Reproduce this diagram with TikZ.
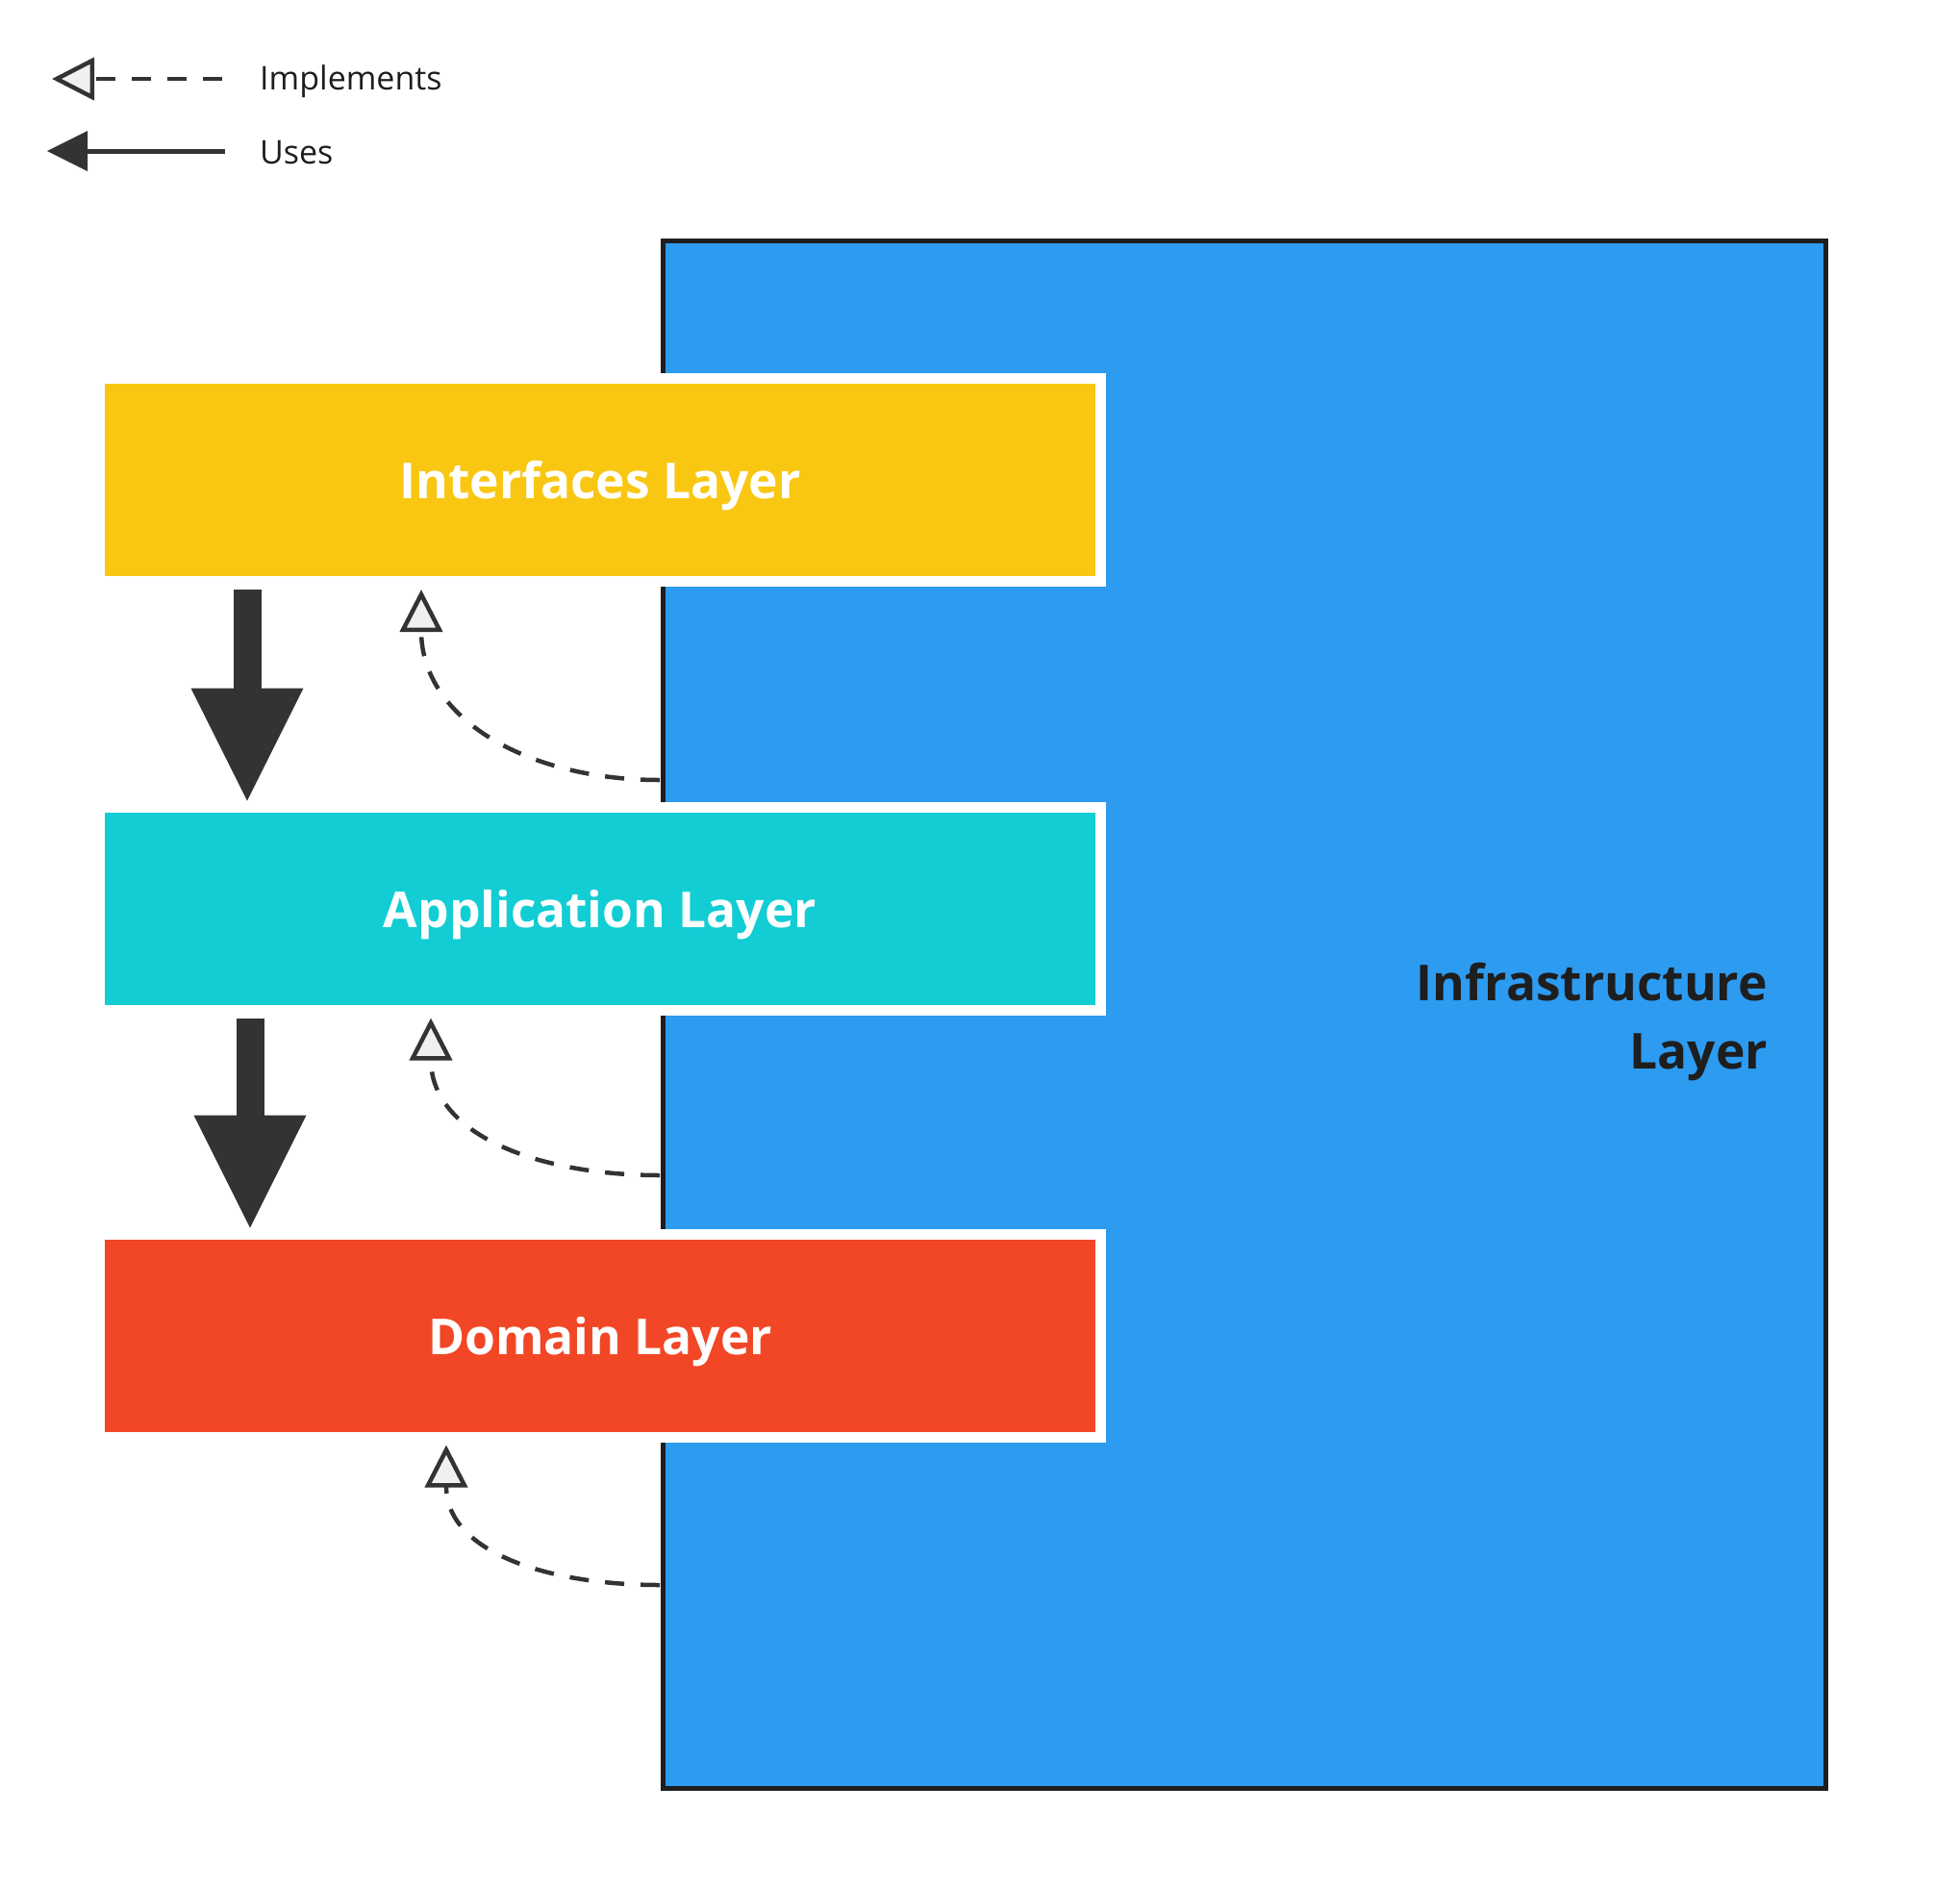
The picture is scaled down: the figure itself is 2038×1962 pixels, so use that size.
\documentclass[tikz,border=0pt]{standalone}
\usepackage{fontspec}
\setmainfont{Open Sans}
\usetikzlibrary{arrows.meta}
\definecolor{ifyellow}{HTML}{F9C712}
\definecolor{appcyan}{HTML}{12CDD4}
\definecolor{domred}{HTML}{F24726}
\definecolor{infrablue}{HTML}{2D9BF0}
\definecolor{arrowdark}{HTML}{333333}
\definecolor{edgedark}{HTML}{1E1E1E}
\definecolor{tipfill}{HTML}{F0F0F0}
\tikzset{
  layer/.style={draw=white, line width=11pt, minimum width=1041pt, minimum height=211pt,
    inner sep=0pt, text depth=0pt, text=white, font=\fontsize{51.5}{60}\selectfont\bfseries},
  infra/.style={fill=infrablue, draw=edgedark, line width=5pt,
    minimum width=1209pt, minimum height=1609pt},
  uses/.style={draw=arrowdark, line width=29pt,
    -{Triangle[width=117pt,length=117pt,line width=0pt]}},
  useslegend/.style={draw=arrowdark, line width=5pt,
    -{Triangle[width=42pt,length=42pt,line width=0pt]}},
  implements/.style={draw=arrowdark, line width=4.5pt, dash pattern=on 20pt off 17pt,
    -{Triangle[width=44pt,length=44pt,fill=tipfill]}},
  legendtext/.style={anchor=west, inner sep=0pt, text=edgedark,
    font=\fontsize{34}{40}\selectfont}
}
\begin{document}
\begin{tikzpicture}[x=1pt,y=-1pt]
  \useasboundingbox (0,0) rectangle (2038,1962);
  % legend
  \node[legendtext] (impllabel) at (270,85) {Implements};
  \node[legendtext] (useslabel) at (270,159) {Uses};
  \coordinate (impltip) at (54,82);
  \coordinate (usestip) at (49,157);
  \draw[implements] (impllabel.west |- impltip) ++(-39,0) -- (impltip);
  \draw[useslegend] (useslabel.west |- usestip) ++(-36,0) -- (usestip);
  % layers
  \node[infra] (infra) at (1293.5,1054.5) {};
  \node[anchor=east, align=right, inner sep=0pt, text=edgedark,
    font=\fontsize{51.5}{71}\selectfont\bfseries] (infralabel) at (1838,1062)
    {Infrastructure\\Layer};
  \node[layer, fill=ifyellow] (iface) at (624,499) {Interfaces Layer};
  \node[layer, fill=appcyan] (app) at (624,944.5) {Application Layer};
  \node[layer, fill=domred] (dom) at (624,1388.5) {Domain Layer};
  \coordinate (implA) at (686,811);
  \coordinate (implB) at (686,1222);
  \coordinate (implC) at (686,1648);
  \begin{scope}[shorten >=1pt]
    \draw[uses, shorten <=3pt] ([xshift=-367pt]iface.south) -- ([xshift=-367pt]app.north);
    \draw[uses, shorten <=3pt] ([xshift=-364pt]app.south) -- ([xshift=-364pt]dom.north);
  \end{scope}
  \begin{scope}[shorten >=3pt]
    \draw[implements] (implA) to[out=180,in=-90,looseness=1.1] ([xshift=-186pt]iface.south);
    \draw[implements] (implB) to[out=180,in=-90,looseness=1.1] ([xshift=-176pt]app.south);
    \draw[implements] (implC) to[out=180,in=-90,looseness=1.1] ([xshift=-160pt]dom.south);
  \end{scope}
\end{tikzpicture}
\end{document}
